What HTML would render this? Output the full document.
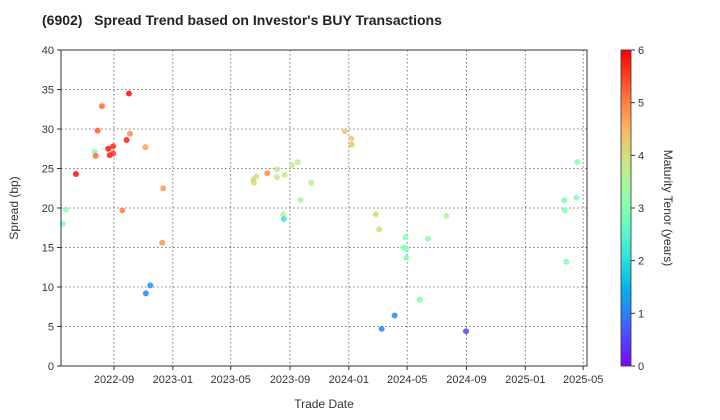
<!DOCTYPE html>
<html><head><meta charset="utf-8">
<style>
html,body{margin:0;padding:0;background:#fff;}
svg{display:block;font-family:"Liberation Sans",Arial,sans-serif;}
</style></head>
<body>
<svg id="chart" width="720" height="420" viewBox="0 0 720 420" xmlns="http://www.w3.org/2000/svg">
  <text x="42" y="25" font-size="14" font-weight="bold" fill="#222" style="white-space:pre" xml:space="preserve">(6902)   Spread Trend based on Investor's BUY Transactions</text>
  <g id="grid"></g>
  <g id="points"></g>
  <rect x="61" y="50" width="526" height="316" fill="none" stroke="#333" stroke-width="1"/>
  <g id="xticks"></g>
  <g id="yticks"></g>
  <text x="324" y="408" font-size="12" text-anchor="middle" fill="#333">Trade Date</text>
  <text transform="translate(18,208) rotate(-90)" font-size="12" text-anchor="middle" fill="#333">Spread (bp)</text>
  <defs><linearGradient id="cbgrad" x1="0" y1="1" x2="0" y2="0"></linearGradient></defs>
  <rect x="621" y="50" width="10" height="316" fill="url(#cbgrad)" stroke="#333" stroke-width="0.8"/>
  <g id="cbticks"></g>
  <text transform="translate(664,208) rotate(90)" font-size="12" text-anchor="middle" fill="#333">Maturity Tenor (years)</text>
</svg>
<script>
const tradeDates = ["2022-10-02","2022-08-07","2022-07-29","2022-10-04","2022-09-27","2022-11-05","2022-07-23","2022-07-25","2022-08-20","2022-08-30","2022-08-23","2022-08-30","2022-06-14","2022-12-12","2022-05-24","2022-09-18","2022-05-18","2022-12-10","2022-11-15","2022-11-06",
"2023-12-24","2024-01-06","2024-01-07","2023-09-17","2023-09-05","2023-08-05","2023-07-16","2023-08-21","2023-08-05","2023-06-23","2023-06-17","2023-06-18","2023-10-15","2023-09-23","2023-08-18","2023-08-19",
"2024-02-26","2024-03-04","2024-07-21","2024-04-27","2024-06-13","2024-04-23","2024-04-29","2024-04-29","2024-05-27","2024-04-05","2024-03-09","2024-08-31",
"2025-04-19","2025-04-17","2025-03-23","2025-03-24","2025-03-27"];
const spreads = [34.5,32.9,29.8,29.4,28.6,27.7,27.1,26.6,27.5,27.8,26.7,26.9,24.3,22.5,19.8,19.7,18.0,15.6,10.2,9.2,
29.7,28.8,28.0,25.8,25.4,24.9,24.4,24.2,23.9,24.0,23.6,23.2,23.2,21.0,19.2,18.6,
19.2,17.3,19.0,16.3,16.1,15.0,14.8,13.7,8.4,6.4,4.7,4.4,
25.8,21.3,21.0,19.7,13.2];
const tenors = [5.9,5.2,5.3,4.9,5.8,4.7,3.1,5.2,5.9,5.7,5.8,5.6,5.9,4.8,3.1,5.0,3.1,4.8,1.2,1.1,
4.3,4.3,4.3,3.7,3.7,3.8,4.9,3.8,3.8,4.0,4.0,4.1,3.7,3.7,3.6,2.2,
4.1,4.0,3.6,3.1,3.1,3.1,3.1,3.0,3.0,1.1,1.1,0.6,
3.1,3.0,3.0,3.0,3.0];
const xTickLabels = ["2022-09","2023-01","2023-05","2023-09","2024-01","2024-05","2024-09","2025-01","2025-05"];
const yTickLabels = [0,5,10,15,20,25,30,35,40];
const cbTickLabels = [0,1,2,3,4,5,6];

const NS="http://www.w3.org/2000/svg";
const L=61,R=587,T=50,B=366;
const xMin=Date.UTC(2022,4,14), xMax=Date.UTC(2025,4,9);
function toMs(s){const p=s.split("-").map(Number);return Date.UTC(p[0],p[1]-1,p[2]||1);}
function xs(s){return L+(toMs(s)-xMin)/(xMax-xMin)*(R-L);}
function ys(v){return B-v/40*(B-T);}
function cs(t){return B-t/6*(B-T);}
function rainbow(x){
  const cl=v=>Math.max(0,Math.min(1,v));
  const r=cl(Math.abs(2*x-0.5)), g=cl(Math.sin(Math.PI*x)), b=cl(Math.cos(Math.PI*x/2));
  return "rgb("+Math.round(r*255)+","+Math.round(g*255)+","+Math.round(b*255)+")";
}
function mk(tag,attrs,parent){const e=document.createElementNS(NS,tag);for(const k in attrs)e.setAttribute(k,attrs[k]);parent.appendChild(e);return e;}

const grid=document.getElementById("grid"), xt=document.getElementById("xticks"), yt=document.getElementById("yticks");
xTickLabels.forEach(lb=>{
  const x=xs(lb);
  const gl=mk("line",{x1:x,x2:x,y1:T,y2:B,stroke:"#555","stroke-width":0.8,"stroke-dasharray":"1.5,2.5"},grid);
  
  
  const tk=mk("line",{x1:x,x2:x,y1:B,y2:B+4,stroke:"#333"},xt);
  
  
  const t=mk("text",{x:x,y:B+17,"font-size":11,"text-anchor":"middle",fill:"#333"},xt);
  t.textContent=lb;
  
  
});
yTickLabels.forEach(v=>{
  const y=ys(v);
  const gl=mk("line",{x1:L,x2:R,y1:y,y2:y,stroke:"#555","stroke-width":0.8,"stroke-dasharray":"1.5,2.5"},grid);
  
  
  const tk=mk("line",{x1:L-4,x2:L,y1:y,y2:y,stroke:"#333"},yt);
  
  
  const t=mk("text",{x:L-7,y:y+4,"font-size":11,"text-anchor":"end",fill:"#333"},yt);
  t.textContent=v;
  
  
});
const pts=document.getElementById("points");
tradeDates.forEach((d,i)=>{
  const c=mk("circle",{cx:xs(d),cy:ys(spreads[i]),r:3,fill:rainbow(tenors[i]/6),"fill-opacity":0.85},pts);
  
  
});
const grad=document.getElementById("cbgrad");
for(let i=0;i<=20;i++){mk("stop",{offset:(i/20),"stop-color":rainbow(i/20)},grad);}
const cb=document.getElementById("cbticks");
cbTickLabels.forEach(v=>{
  const y=cs(v);
  const tk=mk("line",{x1:631,x2:635,y1:y,y2:y,stroke:"#333"},cb);
  
  
  const t=mk("text",{x:638,y:y+4,"font-size":11,fill:"#333"},cb);
  t.textContent=v;
  
  
});
</script>
</body></html>
